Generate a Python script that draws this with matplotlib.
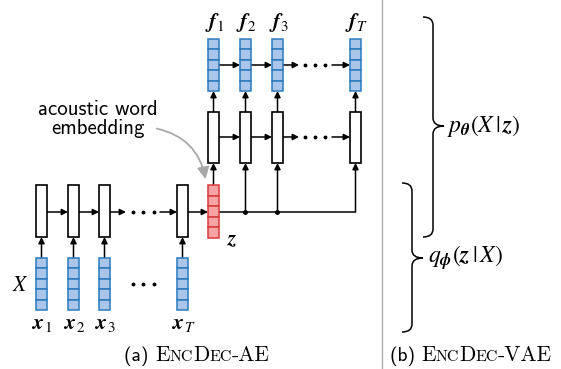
import matplotlib
matplotlib.use('Agg')
import matplotlib.pyplot as plt
from matplotlib.patches import Rectangle, FancyArrowPatch, PathPatch
from matplotlib.path import Path

plt.rcParams['mathtext.fontset'] = 'stix'

# 標籤資料
enc_labels = [r'$\boldsymbol{x}_1$', r'$\boldsymbol{x}_2$', r'$\boldsymbol{x}_3$', r'$\boldsymbol{x}_T$']
dec_labels = [r'$\boldsymbol{f}_1$', r'$\boldsymbol{f}_2$', r'$\boldsymbol{f}_3$', r'$\boldsymbol{f}_T$']
z_label = r'$\boldsymbol{z}$'
p_label = r'$p_{\boldsymbol{\theta}}(X\,|\,\boldsymbol{z})$'
q_label = r'$q_{\boldsymbol{\phi}}(\boldsymbol{z}\,|\,X)$'
note_text = 'acoustic word\nembedding'
cap_a = [('(a) ', 'cmss10', 14), ('E', 'cmr10', 15.5), ('NC', 'cmr10', 11.5),
         ('D', 'cmr10', 15.5), ('EC', 'cmr10', 11.5), ('-AE', 'cmr10', 15.5)]
cap_b = [('(b) ', 'cmss10', 14), ('E', 'cmr10', 15.5), ('NC', 'cmr10', 11.5),
         ('D', 'cmr10', 15.5), ('EC', 'cmr10', 11.5), ('-VAE', 'cmr10', 15.5)]

# 版面 (像素座標)
enc_x = [36, 68, 99, 177]
dec_x = [208, 240, 272, 350]
w = 11
blue_fc, blue_ec = '#a9c5ea', '#2b7bbd'
red_fc, red_ec = '#f7a3a3', '#d93a3a'

fig = plt.figure(figsize=(5.61, 3.69), dpi=100)
ax = fig.add_axes([0, 0, 1, 1])
ax.set_xlim(0, 561)
ax.set_ylim(369, 0)
ax.axis('off')


def box(x, y0, y1):
    ax.add_patch(Rectangle((x, y0), w, y1 - y0, fc='white', ec='black', lw=1.2, zorder=3))


def vec(x, y0, y1, fc, ec):
    h = (y1 - y0) / 5
    for k in range(5):
        ax.add_patch(Rectangle((x, y0 + k * h), w, h, fc=fc, ec=ec, lw=1.1, zorder=3))


def arrow(p0, p1):
    ax.annotate('', xy=p1, xytext=p0,
                arrowprops=dict(arrowstyle='-|>', lw=1.1, color='black', mutation_scale=9,
                                shrinkA=0, shrinkB=0), zorder=2)


def dots(xs, y):
    ax.plot(xs, [y] * len(xs), 'o', color='black', ms=1.8, zorder=3)


def brace(xh, xv, xt, y0, y1, ym, r=8):
    verts = [(xh, y0), (xv, y0), (xv, y0 + r), (xv, ym - r), (xv, ym), (xt, ym),
             (xv, ym), (xv, ym + r), (xv, y1 - r), (xv, y1), (xh, y1)]
    codes = [Path.MOVETO, Path.CURVE3, Path.CURVE3, Path.LINETO, Path.CURVE3, Path.CURVE3,
             Path.CURVE3, Path.CURVE3, Path.LINETO, Path.CURVE3, Path.CURVE3]
    ax.add_patch(PathPatch(Path(verts, codes), fc='none', ec='black', lw=1.1))


# 編碼器
for i, x in enumerate(enc_x):
    box(x, 185, 237)
    vec(x, 258, 310, blue_fc, blue_ec)
    arrow((x + w / 2, 258), (x + w / 2, 237))
    ax.text(x + w / 2 + 1, 324, enc_labels[i], ha='center', va='center', fontsize=15.5)
arrow((47, 212), (68, 212))
arrow((79, 212), (99, 212))
arrow((110, 212), (126, 212))
dots([133, 143, 154], 212)
arrow((160, 212), (177, 212))
dots([133, 143, 154], 284)
ax.text(20, 285, r'$X$', ha='center', va='center', fontsize=15.5)

# z 向量
vec(208, 185, 238, red_fc, red_ec)
arrow((188, 212), (208, 212))
ax.text(232, 239, z_label, ha='center', va='center', fontsize=15.5)
ax.plot([219, 355.5], [212, 212], color='black', lw=1.1, zorder=2)
ax.plot([245.5, 277.5], [212, 212], 'o', color='black', ms=2.5, zorder=3)
arrow((213.5, 185), (213.5, 163))
for x in dec_x[1:]:
    arrow((x + w / 2, 212), (x + w / 2, 163))

# 解碼器
for i, x in enumerate(dec_x):
    box(x, 112, 163)
    vec(x, 39, 91, blue_fc, blue_ec)
    arrow((x + w / 2, 112), (x + w / 2, 91))
    ax.text(x + w / 2 + 1, 23, dec_labels[i], ha='center', va='center', fontsize=15.5)
for y in [65, 137]:
    arrow((219, y), (240, y))
    arrow((251, y), (272, y))
    arrow((283, y), (299, y))
    dots([305, 315, 325], y)
    arrow((332, y), (350, y))

# 註解
ax.text(98, 119, note_text, ha='center', va='center', family='cmss10', fontsize=15,
        linespacing=1.05)
ax.add_patch(FancyArrowPatch((154, 128), (206, 182), connectionstyle='arc3,rad=-0.35',
                             arrowstyle='-|>', mutation_scale=18, color='#a8a8a8', lw=1.3))

# 分隔線與大括號
ax.plot([382, 382], [0, 369], color='#b0b0b0', lw=1.0)
brace(423, 433, 444, 17, 237, 126)
brace(402, 412, 423, 183, 332, 258)
ax.text(447, 126, p_label, ha='left', va='center', fontsize=17)
ax.text(428, 258, q_label, ha='left', va='center', fontsize=17)


# 標題 (小型大寫)
def caption(pieces, cx, y):
    fig.canvas.draw()
    r = fig.canvas.get_renderer()
    texts = [ax.text(0, y, s, family=f, fontsize=sz, ha='left', va='baseline') for s, f, sz in pieces]
    widths = [t.get_window_extent(r).width for t in texts]
    x = cx - sum(widths) / 2
    for t, wd in zip(texts, widths):
        t.set_x(x)
        x += wd


caption(cap_a, 197, 361)
caption(cap_b, 471, 361)

fig.savefig('out.png', dpi=100)
